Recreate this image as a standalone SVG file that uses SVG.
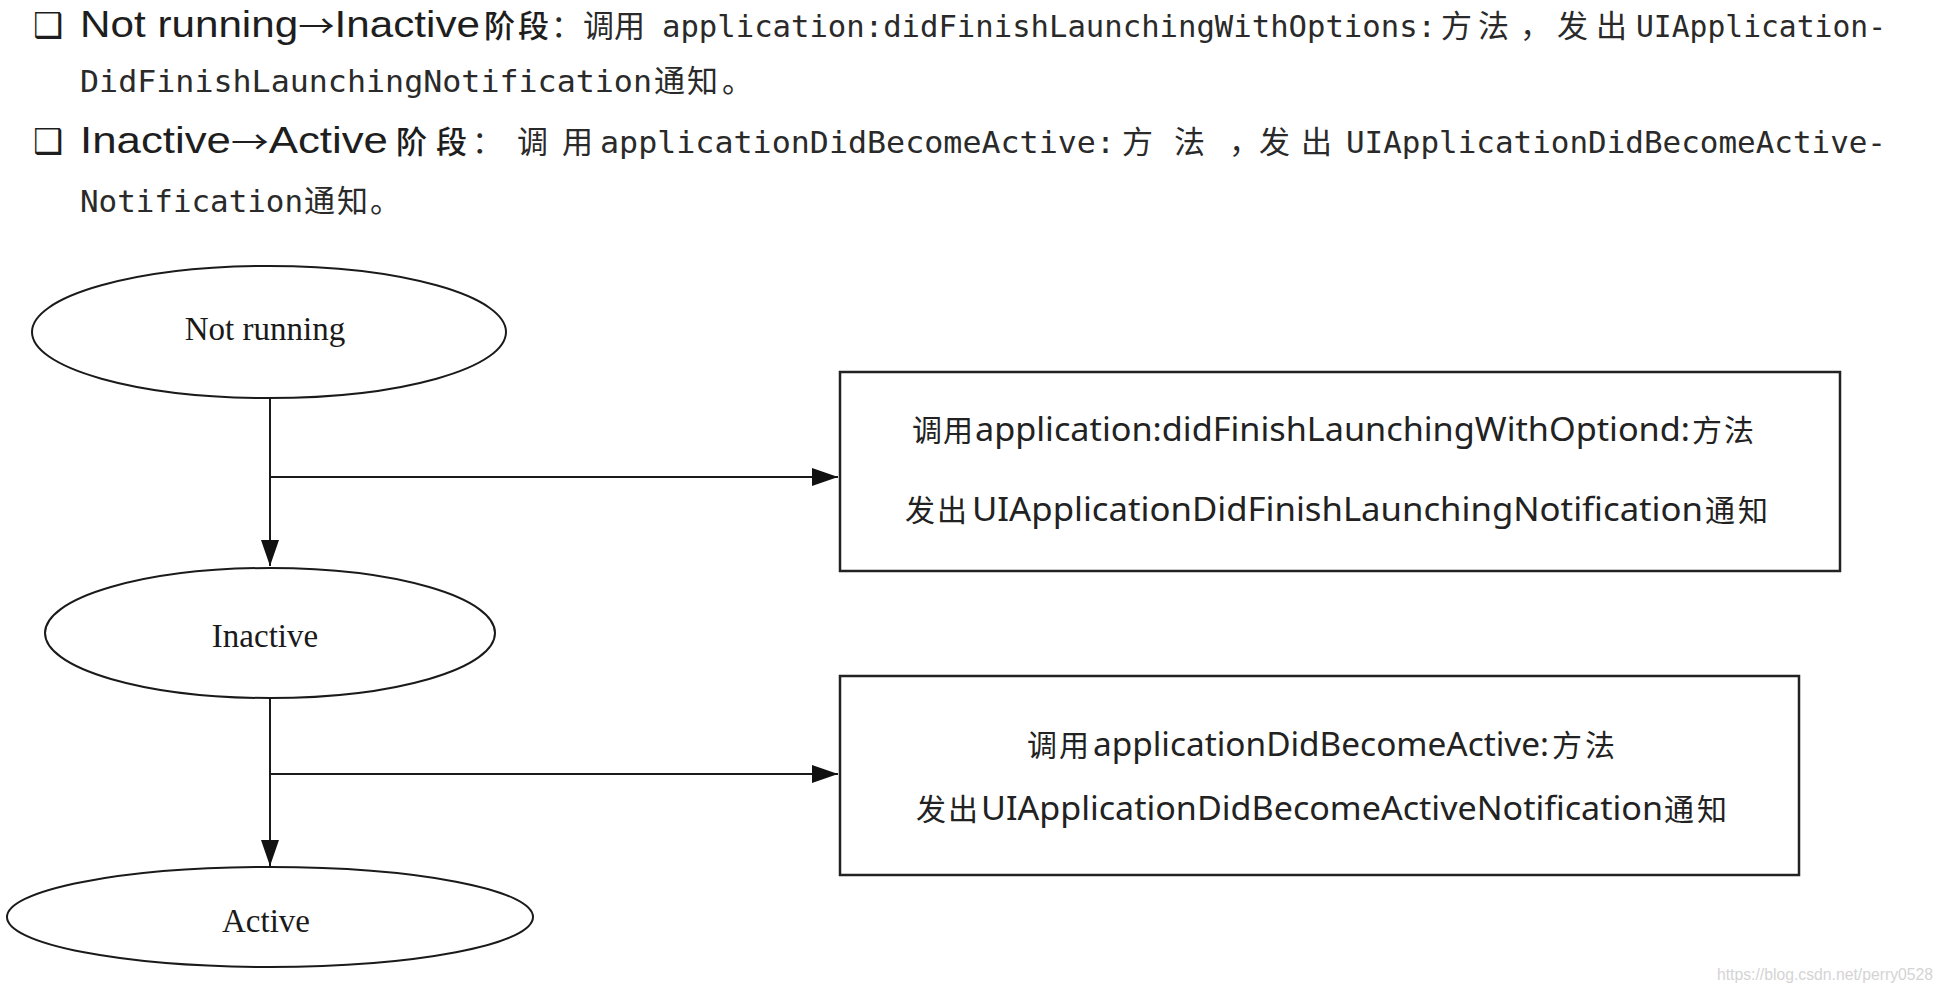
<svg xmlns="http://www.w3.org/2000/svg" width="1942" height="992" viewBox="0 0 1942 992">
<defs>
<style>
.hdr-sans{font-family:"Liberation Sans",Arial,sans-serif;font-size:36px;fill:#1e1e1e}
.arr{font-family:"Noto Sans CJK SC","DejaVu Sans",sans-serif;font-size:31px}
.hdr-mono{font-family:"DejaVu Sans Mono","Liberation Mono",monospace;font-size:30px;fill:#2a2a2a}
.hdr-cjk{font-family:"Noto Sans CJK SC","Noto Sans",sans-serif;font-size:31px;fill:#2a2a2a}
.hdr-cjkb{font-family:"Noto Sans CJK SC","Noto Sans",sans-serif;font-size:31px;font-weight:500;fill:#1e1e1e}
.box-cjk{font-family:"Noto Sans CJK SC","Noto Sans",sans-serif;font-size:30px;fill:#222}
.box-lat{font-family:"Noto Sans","Liberation Sans",sans-serif;font-size:33px;fill:#222}
.lbl{font-family:"Liberation Serif","Times New Roman",serif;font-size:33px;fill:#1a1a1a;text-anchor:middle}
.shape{fill:#fff;stroke:#1a1a1a;stroke-width:2}
.rshape{fill:#fff;stroke:#222;stroke-width:2.5}
.conn{fill:none;stroke:#1a1a1a;stroke-width:2}
.box{font-family:"DejaVu Sans",sans-serif;font-size:34px;fill:#1e1e1e}
</style>
<marker id="arrow" markerUnits="userSpaceOnUse" markerWidth="26" markerHeight="18" refX="26" refY="9" orient="auto">
<path d="M0,0 L26,9 L0,18 z" fill="#111"/>
</marker>
</defs>
<rect x="0" y="0" width="1942" height="992" fill="#ffffff"/>

<g id="header">
<text class="box" x="33" y="37">❑</text>
<text class="hdr-sans" x="80" y="37" textLength="400" lengthAdjust="spacingAndGlyphs">Not running<tspan class="arr">→</tspan>Inactive</text>
<text class="hdr-cjkb" x="484 518" y="37">阶段</text>
<text class="hdr-cjk" x="551" y="37">：</text>
<text class="hdr-cjk" x="583 614" y="37">调用</text>
<text class="hdr-mono" x="662" y="37" textLength="774" lengthAdjust="spacingAndGlyphs">application:didFinishLaunchingWithOptions:</text>
<text class="hdr-cjk" x="1441 1478" y="37">方法</text>
<text class="hdr-cjk" x="1520" y="37">，</text>
<text class="hdr-cjk" x="1557 1596" y="37">发出</text>
<text class="hdr-mono" x="1636" y="37" textLength="250" lengthAdjust="spacingAndGlyphs">UIApplication-</text>

<text class="hdr-mono" x="80" y="92" textLength="572" lengthAdjust="spacingAndGlyphs">DidFinishLaunchingNotification</text>
<text class="hdr-cjk" x="654 687" y="92">通知</text>
<text class="hdr-cjk" x="722" y="92">。</text>

<text class="box" x="33" y="153">❑</text>
<text class="hdr-sans" x="80" y="153" textLength="308" lengthAdjust="spacingAndGlyphs">Inactive<tspan class="arr">→</tspan>Active</text>
<text class="hdr-cjkb" x="396 436" y="153">阶段</text>
<text class="hdr-cjk" x="472" y="153">：</text>
<text class="hdr-cjk" x="517 562" y="153">调用</text>
<text class="hdr-mono" x="600" y="153" textLength="515" lengthAdjust="spacingAndGlyphs">applicationDidBecomeActive:</text>
<text class="hdr-cjk" x="1122 1174" y="153">方法</text>
<text class="hdr-cjk" x="1229" y="153">，</text>
<text class="hdr-cjk" x="1259 1301" y="153">发出</text>
<text class="hdr-mono" x="1346" y="153" textLength="540" lengthAdjust="spacingAndGlyphs">UIApplicationDidBecomeActive-</text>

<text class="hdr-mono" x="80" y="212" textLength="223" lengthAdjust="spacingAndGlyphs">Notification</text>
<text class="hdr-cjk" x="304 337" y="212">通知</text>
<text class="hdr-cjk" x="370" y="212">。</text>
</g>

<g id="connectors">
<line class="conn" x1="270" y1="398" x2="270" y2="566" marker-end="url(#arrow)"/>
<line class="conn" x1="270" y1="477" x2="838" y2="477" marker-end="url(#arrow)"/>
<line class="conn" x1="270" y1="698" x2="270" y2="866" marker-end="url(#arrow)"/>
<line class="conn" x1="270" y1="774" x2="838" y2="774" marker-end="url(#arrow)"/>
</g>

<g id="node-not-running">
<ellipse class="shape" cx="269" cy="332" rx="237" ry="66"/>
<text class="lbl" x="265" y="340">Not running</text>
</g>

<g id="node-inactive">
<ellipse class="shape" cx="270" cy="633" rx="225" ry="65"/>
<text class="lbl" x="265" y="647">Inactive</text>
</g>

<g id="node-active">
<ellipse class="shape" cx="270" cy="917" rx="263" ry="50"/>
<text class="lbl" x="266" y="932">Active</text>
</g>

<g id="node-launch-box">
<rect class="rshape" x="840" y="372" width="1000" height="199"/>
<text class="box-cjk" x="912 943" y="441">调用</text>
<text class="box-lat" x="975" y="441" textLength="715" lengthAdjust="spacingAndGlyphs">application:didFinishLaunchingWithOptiond:</text>
<text class="box-cjk" x="1692 1724" y="441">方法</text>
<text class="box-cjk" x="905 937" y="521">发出</text>
<text class="box-lat" x="972" y="521" textLength="731" lengthAdjust="spacingAndGlyphs">UIApplicationDidFinishLaunchingNotification</text>
<text class="box-cjk" x="1705 1738" y="521">通知</text>
</g>

<g id="node-active-box">
<rect class="rshape" x="840" y="676" width="959" height="199"/>
<text class="box-cjk" x="1027 1059" y="756">调用</text>
<text class="box-lat" x="1093" y="756" textLength="456" lengthAdjust="spacingAndGlyphs">applicationDidBecomeActive:</text>
<text class="box-cjk" x="1552 1585" y="756">方法</text>
<text class="box-cjk" x="916 948" y="820">发出</text>
<text class="box-lat" x="981" y="820" textLength="682" lengthAdjust="spacingAndGlyphs">UIApplicationDidBecomeActiveNotification</text>
<text class="box-cjk" x="1664 1697" y="820">通知</text>
</g>

<text x="1717" y="980" font-family="Liberation Sans, Arial, sans-serif" font-size="16" fill="#d4d4d4" textLength="216" lengthAdjust="spacingAndGlyphs">https://blog.csdn.net/perry0528</text>
</svg>
